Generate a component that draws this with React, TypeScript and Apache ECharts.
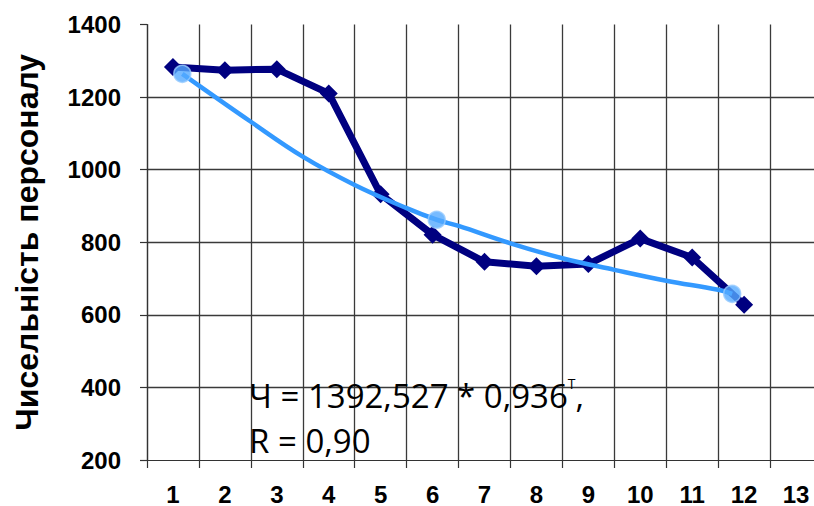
import React, { useEffect, useRef } from "react";
import * as echarts from "echarts";

const categories = ["1", "2", "3", "4", "5", "6", "7", "8", "9", "10", "11", "12", "13"];
const staffValues = [1283, 1274, 1277, 1210, 932, 821, 746, 734, 740, 810, 758, 628];
// trend curve: [period, value]
const trendT = [1.18, 2.5, 3.5, 4.5, 5.5, 6.08, 6.5, 7.5, 8.5, 9.5, 10.5, 11.5, 11.77];
const trendV = [1264, 1132, 1036, 958, 894, 862, 845, 797, 756, 724, 694, 669, 658];
const trendMarkT = [1.18, 6.08, 11.77];
const trendMarkV = [1264, 862, 658];
const yMin = 200;
const yMax = 1400;
const yStep = 200;
const yTitle = "Чисельність персоналу";
const eqMain = "Ч = 1392,527 * 0,936";
const eqSup = "Т";
const eqR = "R = 0,90";

export default function App() {
  const ref = useRef<HTMLDivElement>(null);
  useEffect(() => {
    const chart = echarts.init(ref.current!, null, { renderer: "svg" });
    const labelFont = { fontFamily: "Liberation Sans, Arial, sans-serif", fontWeight: "bold" as const, fontSize: 24, color: "#000" };
    chart.setOption({
      animation: false,
      backgroundColor: "#fff",
      grid: { left: 147, top: 24.5, width: 675, height: 435.5, outerBoundsMode: "none", containLabel: false },
      xAxis: [
        {
          type: "category",
          data: categories,
          boundaryGap: true,
          axisLine: { show: true, lineStyle: { color: "#333", width: 1.2 } },
          axisTick: { show: true, length: 8, lineStyle: { color: "#333", width: 1.2 } },
          axisLabel: { ...labelFont, margin: 22, interval: 0 },
          splitLine: { show: true, interval: 0, lineStyle: { color: "#3a3a3a", width: 1.3 } },
        },
        { type: "value", min: 0.5, max: 13.5, show: false },
      ],
      yAxis: {
        type: "value",
        min: yMin,
        max: yMax,
        interval: yStep,
        name: yTitle,
        nameLocation: "middle",
        nameRotate: 90,
        nameGap: 104,
        nameTextStyle: { fontFamily: "Liberation Sans, Arial, sans-serif", fontWeight: "bold", fontSize: 32, color: "#000" },
        axisLine: { show: true, lineStyle: { color: "#333", width: 1.2 } },
        axisTick: { show: true, length: 7, lineStyle: { color: "#333", width: 1.2 } },
        axisLabel: { ...labelFont, margin: 26, formatter: (v: number) => String(v) },
        splitLine: { show: true, showMaxLine: false, showMinLine: false, lineStyle: { color: "#3a3a3a", width: 1.3 } },
      },
      series: [
        {
          type: "line",
          xAxisIndex: 0,
          data: staffValues,
          symbol: "diamond",
          symbolSize: 18,
          lineStyle: { color: "#000080", width: 7 },
          itemStyle: { color: "#000080" },
          z: 3,
        },
        {
          type: "line",
          xAxisIndex: 1,
          data: trendT.map((t, i) => [t, trendV[i]]),
          smooth: 0.4,
          showSymbol: false,
          symbol: "none",
          lineStyle: { color: "#3399ff", width: 4.5 },
          z: 4,
        },
        {
          type: "scatter",
          xAxisIndex: 1,
          data: trendMarkT.map((t, i) => [t, trendMarkV[i]]),
          symbol: "circle",
          symbolSize: 17,
          itemStyle: { color: "#55aaff", borderColor: "#99ccff", borderWidth: 1.5 },
          z: 5,
        },
      ],
      graphic: [
        {
          type: "text",
          x: 249,
          y: 372.5,
          z: 10,
          style: {
            text: "{a|" + eqMain + "}{s|" + eqSup + "}{a|,}\n{a|" + eqR + "}",
            fill: "#000",
            verticalAlign: "top",
            rich: {
              a: { fontFamily: "Open Sans, sans-serif", fontSize: 33, lineHeight: 45, fill: "#000" },
              s: { fontFamily: "Open Sans, sans-serif", fontSize: 14, lineHeight: 45, verticalAlign: "top", fill: "#000", padding: [4, 0, 0, 0] },
            },
          },
        },
      ],
    });
    return () => chart.dispose();
  }, []);
  return <div ref={ref} style={{ position: "fixed", left: 0, top: 0, width: 814, height: 506 }} />;
}
